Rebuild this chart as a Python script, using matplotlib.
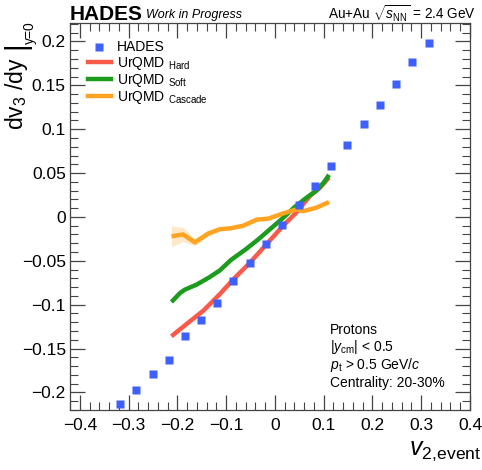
import matplotlib
matplotlib.use('Agg')
import matplotlib.pyplot as plt
from matplotlib.ticker import MultipleLocator
from matplotlib.lines import Line2D

plt.rcParams['font.family'] = ['Liberation Sans', 'DejaVu Sans']
plt.rcParams['mathtext.fontset'] = 'custom'
plt.rcParams['mathtext.rm'] = 'Liberation Sans'
plt.rcParams['mathtext.it'] = 'Liberation Sans:italic'
plt.rcParams['mathtext.bf'] = 'Liberation Sans:bold'

# HADES datos
hades_x = [-0.317, -0.284, -0.250, -0.217, -0.184, -0.152, -0.118, -0.085, -0.052, -0.018,
           0.015, 0.049, 0.082, 0.115, 0.148, 0.182, 0.215, 0.248, 0.281, 0.315]
hades_y = [-0.213, -0.197, -0.179, -0.163, -0.136, -0.118, -0.098, -0.073, -0.053, -0.031,
           -0.009, 0.014, 0.035, 0.058, 0.082, 0.106, 0.128, 0.152, 0.176, 0.198]

# UrQMD Hard
hard_x = [-0.212, -0.181, -0.147, -0.113, -0.085, -0.051, -0.017, 0.017, 0.044, 0.072, 0.092, 0.111]
hard_y = [-0.136, -0.122, -0.107, -0.088, -0.071, -0.052, -0.031, -0.010, 0.005, 0.024, 0.033, 0.045]

# UrQMD Soft
soft_x = [-0.212, -0.195, -0.185, -0.160, -0.135, -0.113, -0.090, -0.060, -0.035, -0.010,
          0.015, 0.040, 0.065, 0.085, 0.100, 0.111]
soft_y = [-0.097, -0.087, -0.083, -0.077, -0.069, -0.061, -0.049, -0.037, -0.026, -0.014,
          -0.002, 0.011, 0.022, 0.030, 0.039, 0.048]

# UrQMD Cascade
casc_x = [-0.212, -0.188, -0.164, -0.137, -0.113, -0.092, -0.065, -0.037, -0.014, 0.017,
          0.044, 0.058, 0.085, 0.111]
casc_y = [-0.022, -0.020, -0.029, -0.019, -0.014, -0.013, -0.010, -0.003, -0.002, 0.004,
          0.0085, 0.0066, 0.0105, 0.017]
casc_err = [0.012, 0.008, 0.004, 0.003, 0.002, 0.002, 0.002, 0.002, 0.002, 0.002,
            0.002, 0.002, 0.002, 0.002]

c_hades = '#3f5fff'
c_hard = '#fa5a4a'
c_soft = '#1c9c1c'
c_casc = '#ffa422'

fig = plt.figure(figsize=(4.82, 4.70), dpi=100)
ax = fig.add_axes([70/482, 60/470, 400/482, 387/470])

lo = [y - e for y, e in zip(casc_y, casc_err)]
hi = [y + e for y, e in zip(casc_y, casc_err)]
ax.fill_between(casc_x, lo, hi, color=c_casc, alpha=0.25, lw=0)
ax.plot(hard_x, hard_y, color=c_hard, lw=3.2, solid_capstyle='butt')
ax.plot(soft_x, soft_y, color=c_soft, lw=3.2, solid_capstyle='butt')
ax.plot(casc_x, casc_y, color=c_casc, lw=3.2, solid_capstyle='butt')
ax.plot(hades_x, hades_y, 's', color=c_hades, ms=5.5, mec='none', zorder=5)

ax.set_xlim(-0.42, 0.40)
ax.set_ylim(-0.22, 0.221)
ax.xaxis.set_major_locator(MultipleLocator(0.1))
ax.xaxis.set_minor_locator(MultipleLocator(0.02))
ax.yaxis.set_major_locator(MultipleLocator(0.05))
ax.yaxis.set_minor_locator(MultipleLocator(0.01))
ax.tick_params(which='both', direction='in', top=True, right=True, labelsize=12.5, color='#444444')
ax.tick_params(which='major', length=11, width=0.9)
ax.tick_params(which='minor', length=5.5, width=0.8)
ax.tick_params(axis='x', pad=6)
ax.tick_params(axis='y', pad=3)
for s in ax.spines.values():
    s.set_color('#444444')
    s.set_linewidth(0.9)

def fmt(v, pos):
    s = ('%g' % round(v, 3))
    return s.replace('-', '\u2212')
ax.xaxis.set_major_formatter(plt.FuncFormatter(fmt))
ax.yaxis.set_major_formatter(plt.FuncFormatter(fmt))

# etiquetas de ejes (estilo ROOT)
fig.text(17/482, 1 - 130/470, r'dv$_3$ /dy', fontsize=16.5, rotation=90,
         ha='center', va='bottom')
fig.text(16/482, 1 - 45/470, '|', fontsize=21, rotation=90, ha='center', va='center')
fig.text(30/482, 1 - 44/470, 'y=0', fontsize=10, rotation=90, ha='center', va='bottom')
fig.text(481/482, 1 - 455/470, r'$v_{\mathregular{2,}\!\mathregular{event}}$', fontsize=18,
         ha='right', va='baseline')

handles = [
    Line2D([], [], ls='none', marker='s', color=c_hades, ms=5.5, mec='none'),
    Line2D([], [], color=c_hard, lw=3.2),
    Line2D([], [], color=c_soft, lw=3.2),
    Line2D([], [], color=c_casc, lw=3.2),
]
labels = ['HADES', r'UrQMD $\mathregular{_{Hard}}$', r'UrQMD $\mathregular{_{Soft}}$',
          r'UrQMD $\mathregular{_{Cascade}}$']
ax.legend(handles, labels, loc='upper left', bbox_to_anchor=(0.02, 0.98), frameon=False,
          fontsize=10, handlelength=1.65, handletextpad=0.45, labelspacing=0.02,
          borderaxespad=0.3)

fig.text(70/482, 1 - 14/470, 'HADES', fontsize=15, fontweight='bold', va='center', ha='left')
fig.text(146/482, 1 - 15/470, 'Work in Progress', fontsize=9, style='italic', va='center', ha='left')
fig.text(476/482, 1 - 14/470, r'Au+Au $\sqrt{s_{\mathregular{NN}}}$ = 2.4 GeV', fontsize=9.8,
         va='center', ha='right')

info = ['Protons', r'$|y_{\mathregular{cm}}|$ < 0.5', r'$p_{\mathregular{t}}$ > 0.5 GeV/$c$',
        'Centrality: 20-30%']
for i, t in enumerate(info):
    ax.text(0.65, (410 - 330 - i*17.5)/387, t, transform=ax.transAxes, fontsize=10,
            va='center', ha='left')

fig.savefig('out.png', dpi=100)
